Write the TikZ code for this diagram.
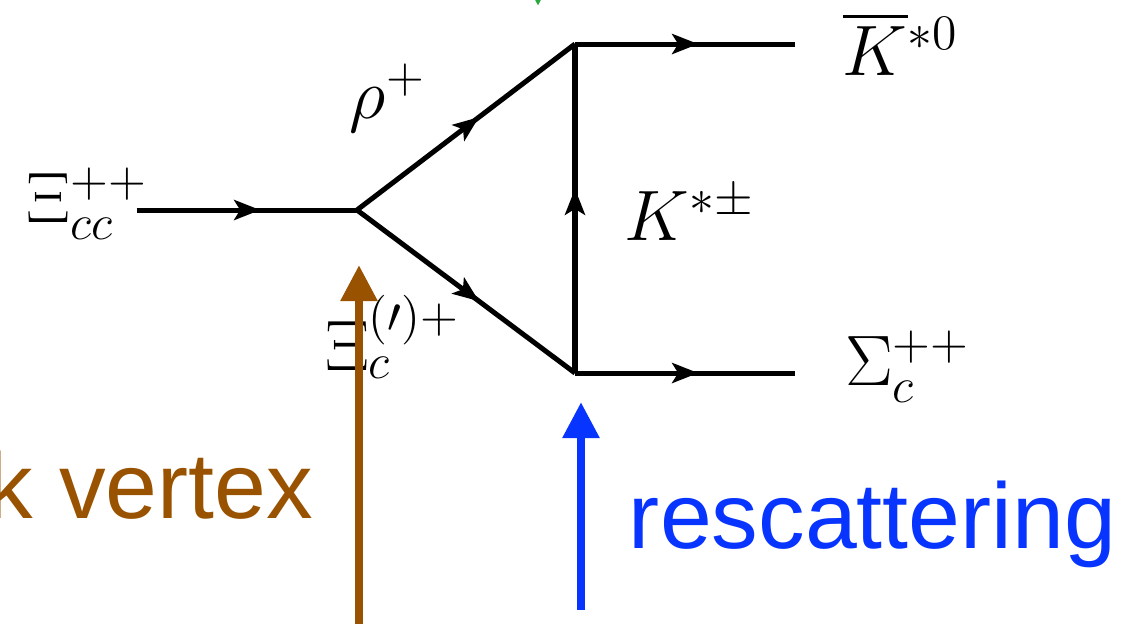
\documentclass[tikz,border=0pt]{standalone}
\usepackage{amsmath}
\usepackage{fontspec}
\newfontfamily\labelfont{Liberation Sans}
\usetikzlibrary{arrows.meta,decorations.markings}
\definecolor{colorweak}{RGB}{153,82,0}
\definecolor{colorresc}{RGB}{8,52,255}
\definecolor{colorgreen}{RGB}{40,170,60}
\newcommand{\mathlabel}[1]{\huge$#1$}
\tikzset{
  propagator/.style={line width=0.05cm, postaction={decorate},
    decoration={markings, mark=at position 0.56 with {\arrow{Stealth[length=0.26cm,width=0.2cm,inset=0.06cm]}}}},
  pointer/.style={line width=0.085cm, -{Triangle[length=0.36cm,width=0.35cm]}},
  particle/.style={anchor=base west, scale=0.98},
  tag/.style={font=\labelfont\fontsize{26.5}{32}\selectfont},
}

\begin{document}
\begin{tikzpicture}[x={(0.01cm,0cm)},y={(0cm,-0.01cm)},every node/.style={inner sep=0pt, outer sep=0pt}]
\useasboundingbox (0,0) rectangle (1138,623);
\clip (0,0) rectangle (1138,623);

\coordinate (xicc) at (137,210);
\coordinate (weak) at (357,210);
\coordinate (top) at (575,44);
\coordinate (bot) at (575,373);
\coordinate (kbar) at (795,44);
\coordinate (sigma) at (795,373);

\draw[propagator] (xicc) -- (weak);
\draw[propagator] (weak) -- (top);
\draw[propagator] (weak) -- (bot);
\draw[propagator] (bot) -- (top);
\draw[propagator] (top) -- (kbar);
\draw[propagator] (bot) -- (sigma);

\node[particle] (lxicc) at (27,222) {\mathlabel{\Xi_{cc}^{++}}};
\node[particle] (lrho) at (350,118) {\mathlabel{\rho^+}};
\node[particle] (lxic) at (325,370) {\mathlabel{\Xi_c^{(\prime)+}}};
\node[particle] (lkst) at (625,240) {\mathlabel{K^{*\pm}}};
\node[particle] (lkbar) at (843,75) {\mathlabel{\overline{K}{}^{*0}}};
\node[particle] (lsig) at (845,385) {\mathlabel{\Sigma_c^{++}}};

\coordinate (wtail) at (359,640);
\coordinate (whead) at (359,265);
\draw[pointer, colorweak] (wtail) -- (whead);
\coordinate (rtail) at (581,610);
\coordinate (rhead) at (581,402);
\draw[pointer, colorresc] (rtail) -- (rhead);
\coordinate (gtail) at (538,-60);
\coordinate (ghead) at (538,6);
\draw[pointer, colorgreen] (gtail) -- (ghead);

\node[tag, text=colorweak, anchor=base east] (lweak) at (313,518) {weak vertex};
\node[tag, text=colorresc, anchor=base west] (lresc) at (629,548) {rescattering};
\end{tikzpicture}
\end{document}
